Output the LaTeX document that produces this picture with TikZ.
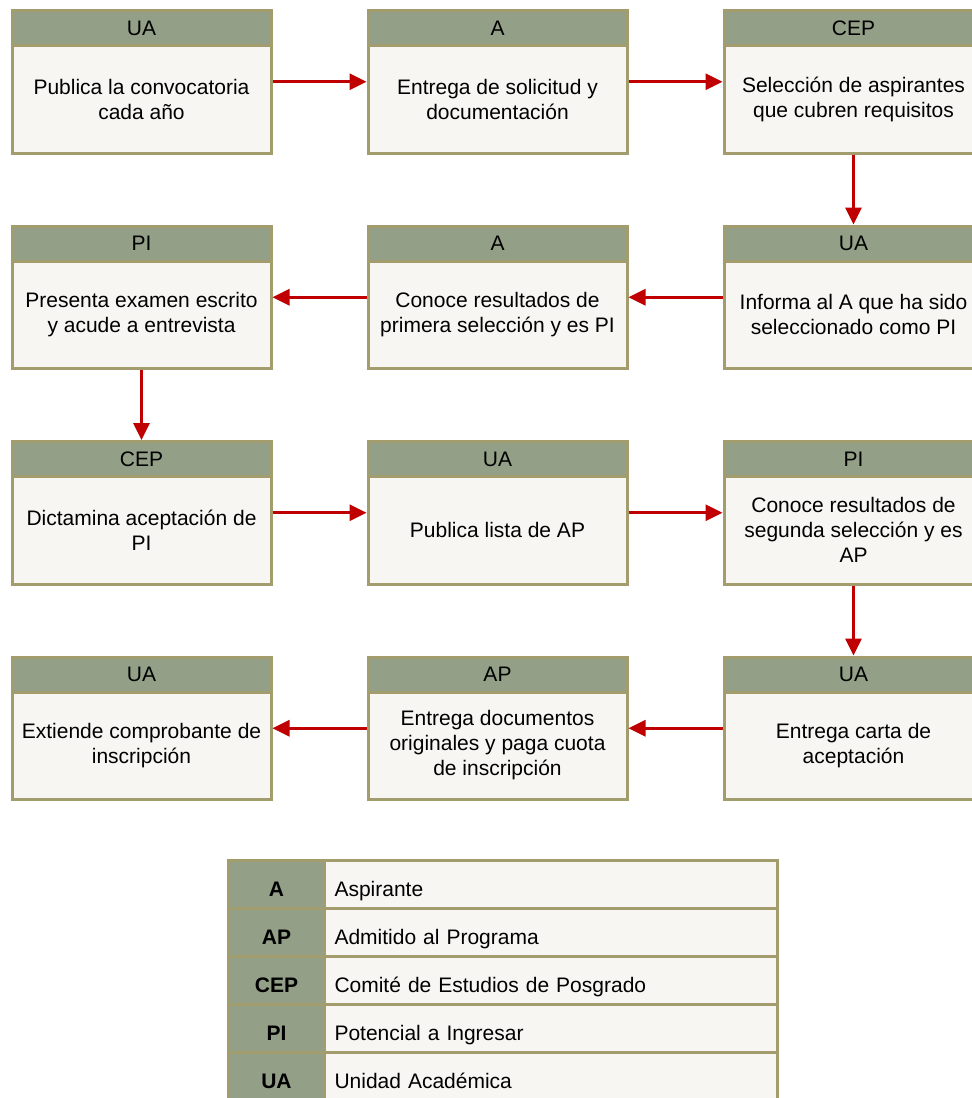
\documentclass[tikz,border=0pt]{standalone}
\usepackage{fontspec}
\setmainfont{Liberation Sans}
\definecolor{hdrg}{HTML}{939F86}
\definecolor{olive}{HTML}{A39D6E}
\definecolor{paper}{HTML}{F7F6F2}
\definecolor{flowred}{HTML}{C00000}
\usetikzlibrary{arrows.meta}

\begin{document}
\begin{tikzpicture}[x=0.5pt, y=-0.5pt,
  stepbox/.style={rectangle, draw=olive, fill=paper, line width=1.5pt, minimum width=129.5pt, minimum height=71.25pt, inner sep=0pt},
  hdr/.style={rectangle, draw=olive, fill=hdrg, line width=1.5pt, minimum width=129.5pt, minimum height=17.5pt, inner sep=0pt, outer sep=0pt, font=\fontsize{10.5}{12.5}\selectfont},
  txt/.style={align=center, inner sep=0pt, font=\fontsize{10.5}{12.5}\selectfont},
  flow/.style={draw=flowred, line width=1.5pt, -{Triangle[length=8.5pt, width=8pt]}},
  keycell/.style={rectangle, draw=olive, fill=hdrg, line width=1.5pt, minimum width=48pt, minimum height=24pt, inner sep=0pt, text height=11.5pt, text depth=0pt, font=\fontsize{10.5}{12.5}\selectfont\bfseries},
  desccell/.style={rectangle, draw=olive, fill=paper, line width=1.5pt, minimum width=226.5pt, minimum height=24pt, inner xsep=5pt, inner ysep=0pt, text width=216.5pt, text height=11.5pt, text depth=0pt, align=left, font=\fontsize{10.5}{12.5}\selectfont},
]
\useasboundingbox (0,0) rectangle (972,1098);
\clip (0,0) rectangle (972,1098);
% row 1
\node[stepbox] (pub) at (141.5,81.75) {};
\node[hdr] (pub-h) at (141.5,28) {UA};
\node[txt] (pub-t) at (141.5,99) {Publica la convocatoria\\cada año};
\node[stepbox] (ent) at (497.5,81.75) {};
\node[hdr] (ent-h) at (497.5,28) {A};
\node[txt] (ent-t) at (497.5,99) {Entrega de solicitud y\\documentación};
\node[stepbox] (sel) at (853.5,81.75) {};
\node[hdr] (sel-h) at (853.5,28) {CEP};
\node[txt] (sel-t) at (853.5,99) {Selección de aspirantes\\que cubren requisitos};
% row 2
\node[stepbox] (inf) at (853.5,297.25) {};
\node[hdr] (inf-h) at (853.5,243.5) {UA};
\node[txt] (inf-t) at (853.5,314.5) {Informa al A que ha sido\\seleccionado como PI};
\node[stepbox] (con) at (497.5,297.25) {};
\node[hdr] (con-h) at (497.5,243.5) {A};
\node[txt] (con-t) at (497.5,314.5) {Conoce resultados de\\primera selección y es PI};
\node[stepbox] (pres) at (141.5,297.25) {};
\node[hdr] (pres-h) at (141.5,243.5) {PI};
\node[txt] (pres-t) at (141.5,314.5) {Presenta examen escrito\\y acude a entrevista};
% row 3
\node[stepbox] (dict) at (141.5,512.75) {};
\node[hdr] (dict-h) at (141.5,459) {CEP};
\node[txt] (dict-t) at (141.5,530) {Dictamina aceptación de\\PI};
\node[stepbox] (lista) at (497.5,512.75) {};
\node[hdr] (lista-h) at (497.5,459) {UA};
\node[txt] (lista-t) at (497.5,530) {Publica lista de AP};
\node[stepbox] (seg) at (853.5,512.75) {};
\node[hdr] (seg-h) at (853.5,459) {PI};
\node[txt] (seg-t) at (853.5,530) {Conoce resultados de\\segunda selección y es\\AP};
% row 4
\node[stepbox] (carta) at (853.5,728.25) {};
\node[hdr] (carta-h) at (853.5,674.5) {UA};
\node[txt] (carta-t) at (853.5,745.5) {Entrega carta de\\aceptación};
\node[stepbox] (docs) at (497.5,728.25) {};
\node[hdr] (docs-h) at (497.5,674.5) {AP};
\node[txt] (docs-t) at (497.5,745.5) {Entrega documentos\\originales y paga cuota\\de inscripción};
\node[stepbox] (comp) at (141.5,728.25) {};
\node[hdr] (comp-h) at (141.5,674.5) {UA};
\node[txt] (comp-t) at (141.5,745.5) {Extiende comprobante de\\inscripción};
% flow
\draw[flow] (pub) -- (ent);
\draw[flow] (ent) -- (sel);
\draw[flow] (sel) -- (inf);
\draw[flow] (inf) -- (con);
\draw[flow] (con) -- (pres);
\draw[flow] (pres) -- (dict);
\draw[flow] (dict) -- (lista);
\draw[flow] (lista) -- (seg);
\draw[flow] (seg) -- (carta);
\draw[flow] (carta) -- (docs);
\draw[flow] (docs) -- (comp);
% legend
\node[keycell] (k-a) at (276.5,884.5) {A};
\node[desccell] (d-a) at (551,884.5) {Aspirante};
\node[keycell] (k-ap) at (276.5,932.5) {AP};
\node[desccell] (d-ap) at (551,932.5) {Admitido al Programa};
\node[keycell] (k-cep) at (276.5,980.5) {CEP};
\node[desccell] (d-cep) at (551,980.5) {Comité de Estudios de Posgrado};
\node[keycell] (k-pi) at (276.5,1028.5) {PI};
\node[desccell] (d-pi) at (551,1028.5) {Potencial a Ingresar};
\node[keycell] (k-ua) at (276.5,1076.5) {UA};
\node[desccell] (d-ua) at (551,1076.5) {Unidad Académica};
\end{tikzpicture}
\end{document}
